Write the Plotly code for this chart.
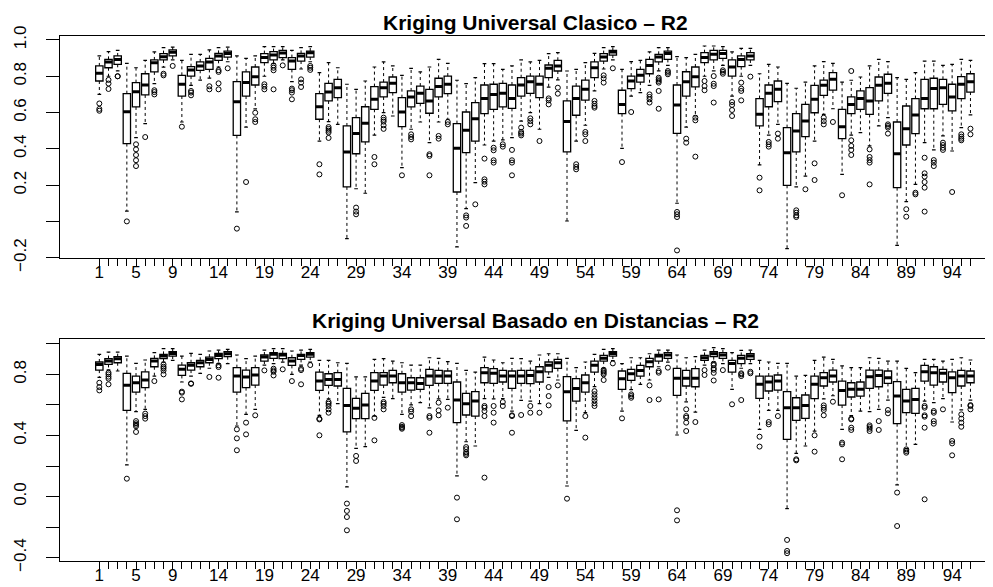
import plotly.graph_objects as go

# ---------------- data: top panel (Kriging Universal Clasico) ----------------
top_q1 = [.774,.847,.866,.429,.631,.697,.824,.890,.912,.691,.801,.833,.838,.888,.906,.474,.691,.752,.875,.890,
          .903,.838,.884,.906,.563,.664,.682,.190,.373,.438,.618,.686,.710,.522,.631,.651,.596,.686,.704,.162,
          .379,.443,.594,.618,.631,.623,.691,.706,.682,.792,.829,.383,.585,.669,.792,.884,.917,.594,.732,.768,
          .814,.879,.893,.485,.691,.741,.875,.890,.899,.801,.853,.890,.526,.632,.660,.199,.383,.467,.599,.695,
          .724,.456,.594,.618,.590,.664,.706,.186,.421,.484,.621,.621,.645,.609,.677,.713]
top_med = [.816,.879,.893,.605,.715,.752,.875,.908,.932,.756,.835,.857,.879,.912,.926,.660,.765,.798,.903,.917,
           .928,.884,.912,.930,.632,.713,.737,.383,.484,.541,.673,.737,.761,.603,.686,.706,.664,.743,.756,.403,
           .502,.566,.677,.700,.706,.678,.752,.770,.756,.844,.857,.550,.678,.728,.847,.906,.934,.645,.774,.805,
           .860,.906,.925,.642,.770,.798,.903,.921,.926,.851,.893,.912,.590,.706,.728,.379,.498,.553,.673,.750,
           .783,.522,.645,.677,.664,.750,.761,.373,.511,.587,.678,.732,.737,.686,.756,.770]
top_q3 = [.857,.893,.912,.704,.765,.814,.890,.925,.945,.805,.853,.879,.899,.926,.939,.770,.824,.851,.925,.936,
          .943,.903,.926,.939,.704,.761,.783,.526,.572,.632,.743,.768,.796,.682,.719,.746,.728,.789,.801,.539,
          .603,.655,.752,.756,.761,.752,.792,.801,.801,.862,.888,.664,.746,.779,.879,.925,.943,.723,.801,.838,
          .893,.921,.939,.752,.825,.851,.930,.943,.943,.890,.912,.930,.677,.752,.774,.517,.594,.645,.750,.779,
          .820,.618,.686,.719,.737,.796,.811,.548,.636,.677,.783,.789,.783,.756,.798,.814]
top_lo = [.700,.800,.830,.057,.462,.539,.760,.850,.890,.548,.750,.779,.790,.850,.880,.052,.520,.620,.800,.870,
          .890,.770,.840,.880,.443,.550,.535,-.095,.180,.155,.476,.600,.581,.296,.508,.548,.434,.548,.563,-.141,
          .070,.214,.421,.443,.449,.462,.553,.600,.508,.740,.780,.002,.443,.530,.720,.840,.890,.403,.690,.710,
          .750,.830,.860,.100,.520,.581,.800,.830,.860,.691,.800,.860,.311,.476,.535,-.150,.190,.250,.443,.590,
          .621,.259,.476,.489,.416,.526,.572,-.132,.109,.204,.434,.394,.471,.388,.517,.587]
top_hi = [.912,.936,.943,.871,.847,.888,.934,.958,.961,.888,.921,.921,.945,.958,.961,.912,.899,.912,.963,.963,
          .963,.943,.958,.963,.820,.875,.847,.756,.728,.774,.851,.879,.857,.805,.844,.824,.851,.893,.871,.778,
          .759,.792,.870,.870,.838,.857,.890,.879,.888,.925,.930,.829,.838,.875,.926,.958,.963,.838,.881,.888,
          .934,.958,.958,.908,.903,.921,.967,.967,.963,.934,.954,.954,.814,.866,.851,.761,.734,.768,.857,.881,
          .871,.768,.778,.796,.857,.893,.881,.792,.783,.820,.884,.884,.860,.866,.893,.888]
top_out = [[.65,.62,.61],[.78,.76,.73],[.80,.80],[.00],[.425,.397,.366,.337,.305],[.465],[.723,.713,.70],[.814,.805],
           [.857],[.522],[.719,.71,.695],[],[.745,.728],[.833,.824,.761,.728],[.844],[-.04],[.217],[.599,.563,.548],
           [.756,.743,.728],[.86,.847,.833,.728],[.86],[.732,.723,.71,.673],[.783,.765,.741],[.857,.847,.835],
           [.315,.259],[.52,.51,.50,.49,.46],[],[],[.076,.054,.039],[],[.355,.315],[.572,.56,.55,.53,.51],[],[.254],
           [.48,.465,.452],[],[.37,.361,.254],[.471,.456],[.548,.535],[],[.033,.021,-.025],[.094],
           [.346,.232,.219,.204],[.406,.392,.337,.324],[.425,.412],[.394,.337,.324,.254],[.517,.493,.484,.474],
           [.568,.553,.535],[.443],[.678,.667,.645],[.737,.704],[],[.315,.30,.287],[.493,.48,.443],
           [.664,.649,.636,.627],[.805,.789,.765],[.844],[.327],[.603],[],[.70,.686,.673,.655],
           [.792,.783,.774,.765,.719,.621],[.829,.82,.811],[.052,.039,.024,-.16],[.456,.434],[.572,.557,.357],
           [.774,.746,.723],[.801,.759,.746,.655],[.833,.824,.814],[.658,.642,.614,.581],[.765,.732,.719,.667],
           [.798],[.241,.171],[.438,.425,.412],[.484,.456],[],[.061,.048,.033,.024],[.177],[.32,.228],
           [.572,.553,.535],[.548],[.144],[.829,.447,.416,.394,.366],[],[.397,.355,.338,.324,.204],[],
           [.535,.526,.517,.484],[],[.067,.026],[.158,.149],[.351,.265,.247,.217,.186,.054],[.338,.324,.305],
           [.434,.421,.406,.394],[.162],[.48,.467,.456,.447],[.511,.48]]

# ---------------- data: bottom panel (Kriging Universal Basado en Distancias) ----------------
bot_q1 = [.828,.865,.876,.564,.684,.713,.850,.903,.920,.793,.828,.850,.876,.903,.916,.684,.713,.730,.887,.905,
          .903,.859,.898,.913,.695,.728,.724,.423,.510,.510,.695,.730,.745,.684,.697,.702,.728,.741,.741,.484,
          .534,.527,.745,.741,.750,.708,.741,.739,.750,.817,.839,.495,.625,.684,.815,.887,.920,.702,.761,.789,
          .850,.887,.905,.663,.724,.719,.892,.916,.905,.815,.870,.898,.643,.691,.697,.375,.499,.512,.641,.724,
          .750,.599,.652,.658,.708,.719,.741,.477,.549,.545,.756,.730,.750,.680,.724,.745]
bot_med = [.865,.887,.903,.728,.745,.763,.887,.920,.937,.833,.859,.876,.898,.924,.935,.789,.783,.796,.913,.931,
           .927,.887,.924,.931,.756,.767,.767,.597,.578,.599,.756,.789,.789,.745,.745,.741,.789,.789,.789,.632,
           .608,.625,.811,.807,.789,.789,.789,.793,.817,.859,.876,.687,.708,.745,.859,.905,.937,.772,.804,.826,
           .883,.920,.927,.774,.774,.774,.909,.935,.927,.872,.905,.920,.735,.750,.756,.582,.582,.597,.735,.778,
           .789,.695,.702,.702,.785,.793,.778,.658,.625,.636,.817,.811,.807,.778,.789,.789]
bot_q3 = [.881,.903,.916,.807,.789,.817,.905,.931,.948,.861,.876,.892,.913,.937,.948,.844,.828,.844,.927,.942,
          .937,.909,.931,.942,.815,.804,.811,.708,.643,.676,.811,.811,.826,.804,.778,.778,.833,.826,.822,.750,
          .676,.687,.844,.837,.826,.822,.826,.826,.850,.881,.898,.785,.772,.796,.887,.924,.948,.822,.833,.859,
          .905,.931,.942,.839,.826,.837,.924,.948,.942,.892,.924,.935,.789,.789,.796,.687,.647,.665,.789,.811,
          .828,.756,.745,.750,.828,.828,.822,.752,.702,.708,.859,.850,.833,.817,.826,.822]
bot_lo = [.780,.830,.822,.207,.556,.571,.789,.880,.892,.750,.789,.807,.840,.870,.870,.462,.538,.571,.860,.870,
          .880,.800,.860,.880,.532,.640,.608,.063,.316,.327,.527,.650,.641,.538,.600,.615,.580,.640,.636,.135,
          .359,.331,.641,.640,.641,.560,.630,.625,.608,.780,.763,.069,.433,.550,.720,.840,.890,.560,.700,.735,
          .763,.850,.880,.403,.620,.553,.860,.880,.870,.702,.840,.870,.440,.564,.564,-.079,.283,.331,.429,.640,
          .660,.440,.530,.560,.556,.571,.632,.076,.314,.342,.625,.615,.641,.488,.567,.632]
bot_hi = [.931,.946,.946,.920,.872,.894,.942,.968,.968,.920,.937,.931,.953,.959,.964,.927,.903,.920,.959,.968,
          .968,.953,.959,.964,.892,.892,.876,.872,.783,.783,.898,.903,.887,.876,.861,.861,.909,.905,.883,.872,
          .826,.815,.913,.894,.876,.905,.903,.887,.927,.935,.935,.905,.844,.881,.931,.964,.968,.870,.909,.909,
          .935,.959,.959,.927,.909,.916,.959,.975,.968,.942,.957,.959,.892,.881,.872,.872,.789,.793,.892,.913,
          .898,.855,.844,.844,.909,.905,.887,.887,.839,.811,.898,.898,.887,.898,.909,.894]
bot_out = [[.745,.717,.695],[.811,.80,.785,.772,.735],[],[.117],[.494,.48,.47,.46,.423],[.543,.527,.51],[.756],
           [.865,.85,.84,.825,.80],[],[.687,.68,.636],[.741,.738],[],[.783],[.859,.848,.778],[],[.44,.381,.303],
           [.484,.407],[.532],[.826],[.837,.826,.817,.793],[.833],[.756],[.837,.828,.735],[.861],[.51,.505,.401],
           [.619,.608,.593,.571,.549],[],[-.046,-.094,-.134,-.221],[.266,.233],[],[.515,.368],[.619,.608,.593,.571],
           [],[.468,.457,.451,.444],[.571,.556,.527],[],[.527,.516,.418],[.615,.564,.532],[.582],[-.007,-.149],
           [.324,.31,.29,.28,.27],[],[.593,.582,.56,.527,.124],[.593,.549,.484],[.619,.593],[.532,.527,.418],[.534],
           [.593,.549],[.549],[.717,.658,.597],[.728],[-.014],[],[.527,.386],[.69,.67,.65,.63,.61,.593],
           [.83,.82,.81,.80,.763],[.872],[.512],[.669,.658,.647],[],[.728,.632],[.822,.811,.636],[.844],
           [-.09,-.156],[.571,.527,.516,.484,.429],[.488],[.828,.796],[.87,.86,.84,.83,.81,.76],[.828],[.604],
           [.807,.80,.789,.632],[.817,.807],[.392,.327],[.488,.473],[.527],[-.284,-.356,-.371],[.244,.237],[],
           [.401,.294],[.597,.582,.567,.532],[.621],[.353,.342,.244],[.51,.505,.451,.436],[],[.466,.455,.444,.429],
           [.494,.436],[.567,.545],[.026,-.193],[.309,.298,.287],[],[.593,.582,.532,.523,.451,-.018],
           [.56,.549,.494,.477],[.571],[.364,.348,.27],[.538,.51,.484,.457],[.599,.593,.571]]

positions = list(range(1, 97))
x_label_values = [1, 5, 9] + list(range(14, 95, 5))
top_title = "Kriging Universal Clasico \u2013 R2"
bot_title = "Kriging Universal Basado en Distancias \u2013 R2"

top_yticks = [-0.2, 0.0, 0.2, 0.4, 0.6, 0.8, 1.0]
top_ylabels = ["\u22120.2", "", "0.2", "0.4", "0.6", "0.8", "1.0"]
bot_yticks = [-0.4, -0.2, 0.0, 0.2, 0.4, 0.6, 0.8, 1.0]
bot_ylabels = ["\u22120.4", "", "0.0", "", "0.4", "", "0.8", ""]

# ---------------- styling ----------------
FONT = "Liberation Sans, Arial, Helvetica, sans-serif"
BOXW = 0.8
CAPW = 0.4

fig = go.Figure()


def add_panel(q1, med, q3, lo, hi, outs, xa, ya):
    # whiskers (dashed)
    wx, wy = [], []
    for p, a, b, c, d in zip(positions, q1, q3, lo, hi):
        wx += [p, p, None, p, p, None]
        wy += [b, d, None, a, c, None]
    fig.add_trace(go.Scatter(x=wx, y=wy, mode="lines", xaxis=xa, yaxis=ya,
                             line=dict(color="black", width=1, dash="3px,3px"),
                             hoverinfo="skip", showlegend=False))
    # staples
    cx, cy = [], []
    for p, c, d in zip(positions, lo, hi):
        cx += [p - CAPW / 2, p + CAPW / 2, None, p - CAPW / 2, p + CAPW / 2, None]
        cy += [d, d, None, c, c, None]
    fig.add_trace(go.Scatter(x=cx, y=cy, mode="lines", xaxis=xa, yaxis=ya,
                             line=dict(color="black", width=1.2),
                             hoverinfo="skip", showlegend=False))
    # boxes
    fig.add_trace(go.Box(x=positions, q1=q1, median=med, q3=q3, lowerfence=q1, upperfence=q3,
                         width=BOXW, whiskerwidth=0, boxpoints=False, xaxis=xa, yaxis=ya,
                         fillcolor="white", line=dict(color="black", width=1.3),
                         showlegend=False))
    # thick medians
    mx, my = [], []
    for p, m in zip(positions, med):
        mx += [p - BOXW / 2, p + BOXW / 2, None]
        my += [m, m, None]
    fig.add_trace(go.Scatter(x=mx, y=my, mode="lines", xaxis=xa, yaxis=ya,
                             line=dict(color="black", width=3),
                             hoverinfo="skip", showlegend=False))
    # outliers
    ox, oy = [], []
    for p, vals in zip(positions, outs):
        for v in vals:
            ox.append(p)
            oy.append(v)
    fig.add_trace(go.Scatter(x=ox, y=oy, mode="markers", xaxis=xa, yaxis=ya,
                             marker=dict(symbol="circle-open", size=5, color="black",
                                         line=dict(width=1, color="black")),
                             hoverinfo="skip", showlegend=False))


add_panel(top_q1, top_med, top_q3, top_lo, top_hi, top_out, "x", "y")
add_panel(bot_q1, bot_med, bot_q3, bot_lo, bot_hi, bot_out, "x2", "y2")

ticktext = [str(p) if p in x_label_values else "" for p in positions]
xcommon = dict(range=[-3.29, 99.33], tickmode="array", tickvals=positions, ticktext=ticktext,
               ticks="outside", ticklen=7, tickwidth=1, tickcolor="black",
               showline=True, mirror=True, linecolor="black", linewidth=1.2,
               showgrid=False, zeroline=False, tickangle=0, ticklabelstandoff=-9,
               tickfont=dict(family=FONT, size=17, color="black"))
ycommon = dict(ticks="outside", ticklen=13, tickwidth=1, tickcolor="black",
               showline=True, mirror=False, linecolor="black", linewidth=1.2,
               showgrid=False, zeroline=False, tickangle=-90, tickmode="array",
               ticklabelstandoff=13,
               tickfont=dict(family=FONT, size=17, color="black"))

TOP_DOM = [0.5764, 1.0]
BOT_DOM = [0.0, 0.4221]

fig.update_layout(
    width=993, height=587,
    margin=dict(l=52, r=0, t=28, b=34),
    paper_bgcolor="white", plot_bgcolor="white",
    showlegend=False,
    xaxis=dict(domain=[0, 1], anchor="y", **xcommon),
    yaxis=dict(domain=TOP_DOM, anchor="x", range=[-0.204, 1.022],
               tickvals=top_yticks, ticktext=top_ylabels, **ycommon),
    xaxis2=dict(domain=[0, 1], anchor="y2", **xcommon),
    yaxis2=dict(domain=BOT_DOM, anchor="x2", range=[-0.422, 1.029],
                tickvals=bot_yticks, ticktext=bot_ylabels, **ycommon),
    annotations=[
        dict(text="<b>" + top_title + "</b>", xref="paper", yref="paper", x=0.5053, y=1.0276,
             xanchor="center", yanchor="middle", showarrow=False, height=24, valign="middle",
             font=dict(family=FONT, size=21, color="black")),
        dict(text="<b>" + bot_title + "</b>", xref="paper", yref="paper", x=0.5053, y=0.4591,
             xanchor="center", yanchor="middle", showarrow=False, height=24, valign="middle",
             font=dict(family=FONT, size=21, color="black")),
    ],
)

fig.write_html("out.html")
